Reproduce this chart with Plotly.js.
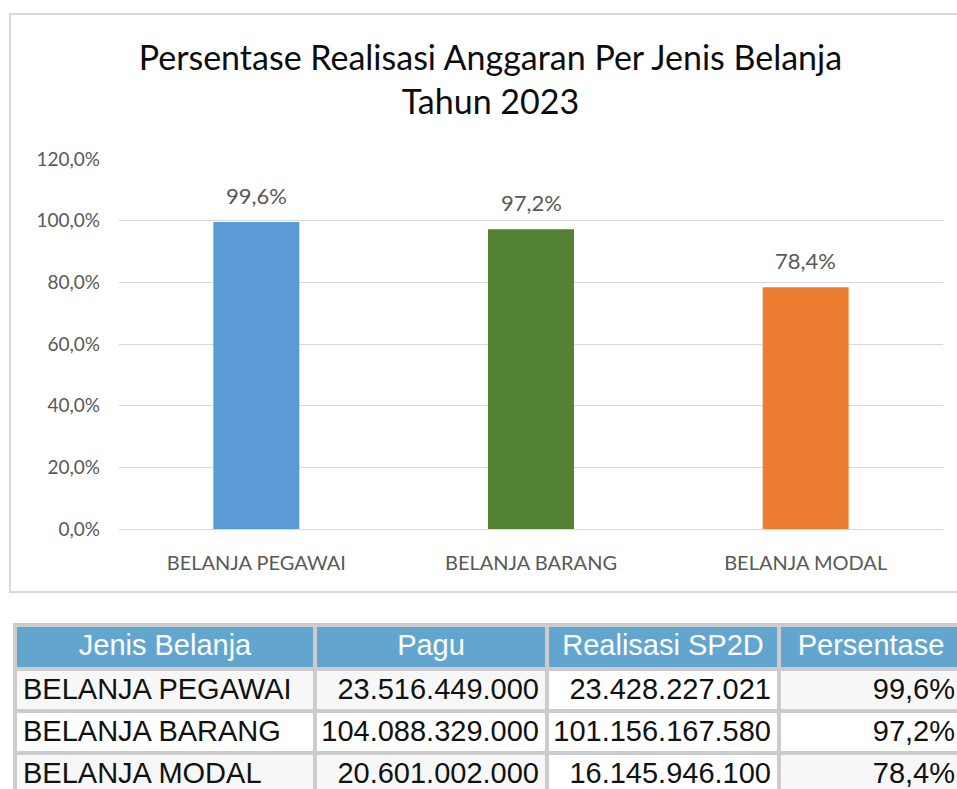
<!DOCTYPE html>
<html>
<head>
<meta charset="utf-8">
<script src="https://cdn.plot.ly/plotly-3.0.1.min.js"></script>
<style>
  html, body { margin: 0; padding: 0; background: #fff; overflow: hidden; width: 957px; height: 789px; }
  #chart { position: absolute; left: 0; top: 0; width: 975px; height: 600px; }
  #table { position: absolute; left: 0; top: 620px; width: 975px; height: 190px; }
</style>
</head>
<body>
<div id="chart"></div>
<div id="table"></div>
<script>
// ---- data ----
const categories = ['BELANJA PEGAWAI', 'BELANJA BARANG', 'BELANJA MODAL'];
const persentase = [99.6, 97.2, 78.4];
const pagu = [23516449000, 104088329000, 20601002000];
const realisasi = [23428227021, 101156167580, 16145946100];
const barColors = ['#5b9bd5', '#548235', '#ed7d31'];
const tableHeaders = ['Jenis Belanja', 'Pagu', 'Realisasi SP2D', 'Persentase'];
const yTicks = [0, 20, 40, 60, 80, 100, 120];

function fmtThousands(n) {
  return String(n).replace(/\B(?=(\d{3})+(?!\d))/g, '.');
}
function fmtPct(v) {
  return v.toFixed(1).replace('.', ',') + '%';
}

// ---- chart ----
const chartFont = 'Lato, "Open Sans", sans-serif';
const barTrace = {
  type: 'bar',
  x: categories,
  y: persentase,
  marker: { color: barColors, line: { width: 0 } },
  width: 0.313,
  hoverinfo: 'none'
};

const labelAnnotations = categories.map((c, i) => ({
  x: c, y: persentase[i], xref: 'x', yref: 'y',
  text: fmtPct(persentase[i]),
  showarrow: false, yanchor: 'bottom', yshift: 11,
  font: { family: chartFont, size: 22, color: '#595959' }
}));

const chartLayout = {
  width: 975, height: 600,
  margin: { l: 119, r: 32, t: 159, b: 71 },
  paper_bgcolor: '#ffffff', plot_bgcolor: '#ffffff',
  showlegend: false,
  title: {
    text: 'Persentase Realisasi Anggaran Per Jenis Belanja<br>Tahun 2023',
    x: 0.503, xref: 'container', xanchor: 'center',
    y: 1 - 70 / 600, yref: 'container', yanchor: 'top',
    font: { family: chartFont, size: 34, color: '#0d0d0d' }
  },
  xaxis: {
    type: 'category',
    showgrid: false, showline: false, zeroline: false,
    ticks: '', ticklabelstandoff: 20,
    tickfont: { family: chartFont, size: 20, color: '#595959' }
  },
  yaxis: {
    range: [0, 120], tickmode: 'array', tickvals: yTicks,
    ticktext: yTicks.map(fmtPct),
    showgrid: true, gridcolor: '#d9d9d9', gridwidth: 1,
    zeroline: true, zerolinecolor: '#d9d9d9', zerolinewidth: 1,
    showline: false, ticks: '', ticklabelstandoff: 18,
    tickfont: { family: chartFont, size: 19, color: '#595959' }
  },
  annotations: labelAnnotations,
  shapes: [{
    type: 'rect', xref: 'paper', yref: 'paper', layer: 'below',
    x0: (10 - 119) / 824, x1: (995 - 119) / 824,
    y0: (529 - 592) / 370, y1: (529 - 14) / 370,
    line: { color: '#d9d9d9', width: 2 }, fillcolor: 'rgba(0,0,0,0)'
  }]
};

Plotly.newPlot('chart', [barTrace], chartLayout, { staticPlot: true, displayModeBar: false });

// ---- table ----
const tableFont = '"Liberation Sans", Arial, sans-serif';
const grayRow = '#f7f7f7', whiteRow = '#ffffff';
const tableTrace = {
  type: 'table',
  columnwidth: [300, 232, 232, 184],
  header: {
    values: tableHeaders,
    align: 'center',
    height: 44,
    fill: { color: '#62a6d0' },
    line: { color: '#cccccc', width: 4 },
    font: { family: tableFont, size: 29, color: '#ffffff' }
  },
  cells: {
    values: [
      categories,
      pagu.map(fmtThousands),
      realisasi.map(fmtThousands),
      persentase.map(fmtPct)
    ],
    align: ['left', 'right', 'right', 'right'],
    height: 42,
    fill: { color: [
      [grayRow, whiteRow, grayRow],
      [grayRow, whiteRow, grayRow],
      [whiteRow, whiteRow, whiteRow],
      [grayRow, whiteRow, grayRow]
    ] },
    line: { color: '#cccccc', width: 4 },
    font: { family: tableFont, size: 29, color: '#111111' }
  }
};

Plotly.newPlot('table', [tableTrace], {
  width: 975, height: 190,
  margin: { l: 15, r: 12, t: 5, b: 0 },
  paper_bgcolor: '#ffffff'
}, { staticPlot: true, displayModeBar: false });
</script>
</body>
</html>
